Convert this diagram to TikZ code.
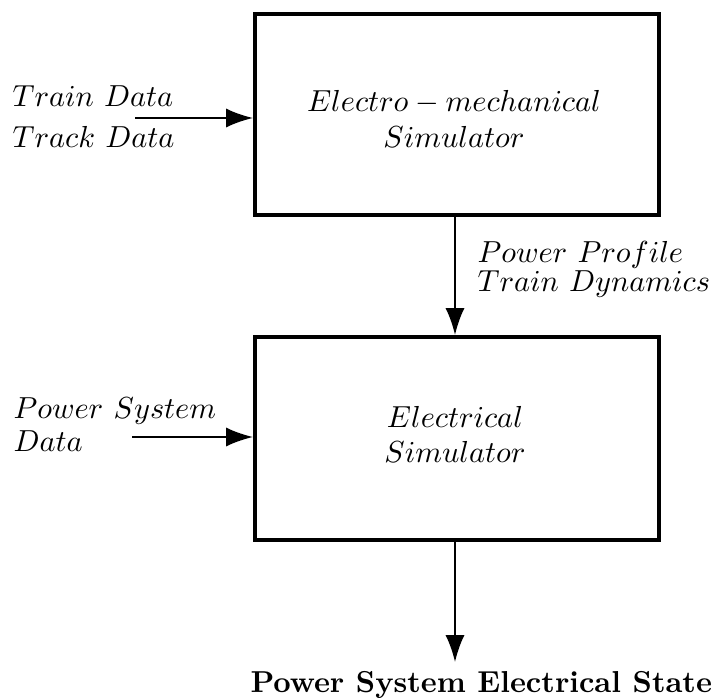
\documentclass[tikz,border=0pt]{standalone}
\usetikzlibrary{arrows.meta}
\begin{document}
\begin{tikzpicture}[x=0.36pt, y=-0.36pt,
  block/.style={draw, line width=1.44pt, minimum width=145.44pt, inner sep=0pt},
  flow/.style={line width=0.75pt, -{Latex[length=9.7pt, width=6.9pt]}},
  lbl/.style={inner sep=0pt, align=left, anchor=base west},
  blocktext/.style={inner sep=0pt, align=center, anchor=base}]
\useasboundingbox (0,0) rectangle (714,698);
% simulator blocks
\node[block, minimum height=72.36pt] (emsim) at (457,114.5) {};
\node[block, minimum height=73.08pt] (elsim) at (457,438.5) {};
\node[blocktext, font=\fontsize{11.4}{12.96}\selectfont] (emtext) at (454,148)
  {$Electro-mechanical$\\$Simulator$};
\node[blocktext, font=\fontsize{11.4}{12.6}\selectfont] (eltext) at (455,462)
  {$Electrical$\\$Simulator$};
% inputs
\node[lbl, font=\fontsize{11.4}{14.76}\selectfont] (traindata) at (12,148)
  {$Train\ Data$\\$Track\ Data$};
\node[lbl, font=\fontsize{11.4}{12.24}\selectfont] (psdata) at (13,452)
  {$Power\ System$\\$Data$};
\coordinate (in1) at (135,118);
\coordinate (in2) at (132,437);
\draw[flow] (in1) -- (emsim.west |- in1);
\draw[flow] (in2) -- (elsim.west |- in2);
% link between the simulators
\draw[flow] (emsim.south -| 455,0) -- (elsim.north -| 455,0);
\node[lbl, font=\fontsize{11.4}{9}\selectfont] (profile) at (477,292)
  {$Power\ Profile$\\$Train\ Dynamics$};
% output
\node[inner sep=0pt, anchor=base west, font=\fontsize{10.9}{13}\selectfont\bfseries] (state) at (250,692)
  {Power System Electrical State};
\coordinate (out) at (455,662);
\draw[flow] (elsim.south -| out) -- (out);
\end{tikzpicture}
\end{document}
